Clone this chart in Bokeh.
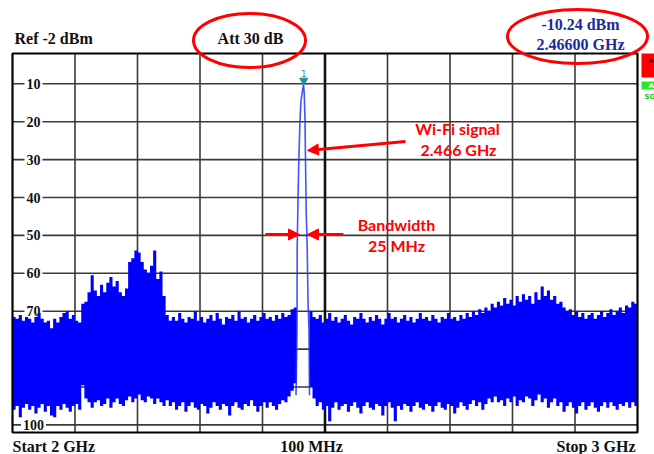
import numpy as np
from bokeh.plotting import figure
from bokeh.models import Range1d, Label, Arrow, NormalHead
from bokeh.core.properties import value
from bokeh.embed import file_html
from bokeh.resources import INLINE

# ---------------- data ----------------
F_START, F_STOP = 2.0, 3.0          # GHz
REF_LEVEL, BOTTOM_LEVEL = -2, -102  # dBm
BIN = 0.005                          # GHz per trace bin

Y_TICKS = [-10, -20, -30, -40, -50, -60, -70, -80, -90, -100]
Y_TICK_LABELS = ["10", "20", "30", "40", "50", "60", "70", "80", "90", "100"]
X_GRID = [2.1, 2.2, 2.3, 2.4, 2.5, 2.6, 2.7, 2.8, 2.9]

# noise trace, left of the carrier (bins from 2.000 GHz)
NOISE_LEFT_START = 2.000
NOISE_LEFT_MAX = [
    -71.5, -72, -71, -72.5, -71.5, -72, -73, -71.5, -70.5, -72,
    -73, -72.5, -74.5, -72, -73, -71.5, -70.5, -70, -72, -71,
    -72.5, -73, -68, -67.5, -65, -60.5, -64.5, -66, -63, -65,
    -62.5, -61, -63.5, -62, -65, -66, -64, -57, -56, -54,
    -54.5, -57, -59, -60, -58, -54, -61.5, -59.5, -66, -71,
    -72.5, -71.5, -72.5, -70.5, -72, -73, -71.5, -72, -70, -72.5,
    -71.5, -73, -72, -71, -72.5, -70.5, -72, -73.5, -71.5, -72,
    -71, -72.5, -70, -72, -71.5, -73, -72, -71, -72.5, -71.5,
    -70.5, -72, -71.5, -72.5, -71, -72, -70.5, -71.5, -71, -69.5,
    -69,
]
NOISE_LEFT_MIN = [
    -96, -95, -98, -95.5, -94.5, -96, -95, -97, -95.5, -94.5,
    -96.5, -95, -97.5, -98, -95, -96, -94.5, -95.5, -96.5, -95,
    -94.5, -96, -89.5, -93, -94, -95.5, -94, -93.5, -95, -94.5,
    -93, -95.5, -94, -93, -94.5, -95, -93.5, -92.5, -94, -93,
    -92, -93.5, -94, -92.5, -93, -94.5, -93, -94, -95, -93.5,
    -95, -94, -96, -95, -94, -96.5, -95, -94, -95.5, -96,
    -94.5, -95, -97, -95.5, -94, -95, -96, -94.5, -95, -97.5,
    -95, -94, -95.5, -96, -94.5, -95, -93.5, -95, -96.5, -95,
    -94, -95.5, -94, -95, -96, -94.5, -93.5, -94, -92.5, -91,
    -89,
]

# noise trace, right of the carrier (bins from 2.475 GHz)
NOISE_RIGHT_START = 2.475
NOISE_RIGHT_MAX = [
    -70, -71.5, -72, -71, -73, -72, -70.5, -72.5, -71.5, -73,
    -72, -71, -72.5, -73.5, -71.5, -72, -70.5, -72, -73, -71.5,
    -72.5, -71, -72, -73.5, -72, -70.5, -72, -71.5, -73, -72,
    -71, -72.5, -71.5, -73, -72, -70.5, -72, -71.5, -72.5, -71,
    -72, -73, -71.5, -72, -70.5, -72, -71.5, -72.5, -71, -72,
    -70.5, -71.5, -70, -71, -69.5, -70.5, -69, -70, -68, -69,
    -67.5, -68.5, -66.5, -68, -67, -68.5, -66, -67.5, -65.5, -67,
    -66, -68, -65, -67, -63.5, -66, -64.5, -67, -66, -68,
    -67.5, -69, -70, -69.5, -71, -70, -71.5, -70.5, -72, -71,
    -70.5, -72, -71, -70, -71.5, -70.5, -69.5, -71, -70, -69,
    -70.5, -68.5, -69, -67.5, -68,
]
NOISE_RIGHT_MIN = [
    -90, -93, -95, -94, -96, -95, -99, -95.5, -94, -96,
    -95, -94.5, -96.5, -95, -94, -95.5, -97, -95, -94, -95.5,
    -96, -94.5, -95, -97.5, -95, -94, -95.5, -99, -95, -96,
    -94.5, -95, -96.5, -95, -94, -95.5, -96, -94.5, -95, -96.5,
    -95, -94, -95.5, -96, -94.5, -95, -97, -95.5, -94, -95,
    -96, -94.5, -93.5, -95, -94, -96, -94.5, -93, -94, -92.5,
    -94, -93.5, -95, -93, -94, -92.5, -95, -93.5, -94, -92.5,
    -93, -95, -93.5, -92, -94, -93, -95.5, -94, -93, -95,
    -94, -96.5, -95, -94, -95.5, -97, -95, -94, -96, -95,
    -94, -95.5, -96.5, -95, -94, -95.5, -94, -95, -96, -94.5,
    -95, -94, -95.5, -94, -95,
]

# Wi-Fi carrier trace
SIGNAL_FREQ = [2.4536, 2.4552, 2.4555, 2.4565, 2.4581, 2.4600, 2.4616, 2.4640,
               2.4656, 2.4667, 2.4680, 2.4688, 2.4699, 2.4715, 2.4728, 2.4744, 2.4752]
SIGNAL_LEVEL = [-92.2, -75.1, -53.2, -43.4, -30.2, -19.7, -14.4, -11.8,
                -10.24, -12.3, -19.7, -30.2, -43.4, -53.2, -67.2, -75.1, -92.2]
MARKER_FREQ, MARKER_LEVEL = 2.466, -10.24

# ---------------- page geometry (pixels of the 654x454 picture) ----------------
W, H = 654, 454
PX_LEFT, PX_RIGHT, PX_TOP, PX_BOTTOM = 12, 637, 53, 432
XS = (PX_RIGHT - PX_LEFT) / (F_STOP - F_START)
YS = (PX_BOTTOM - PX_TOP) / (REF_LEVEL - BOTTOM_LEVEL)


def X(px):
    return F_START + (px - PX_LEFT) / XS


def Y(py):
    return REF_LEVEL - (py - PX_TOP) / YS


p = figure(width=W, height=H, min_border=0, toolbar_location=None,
           x_axis_location=None, y_axis_location=None, output_backend="svg",
           x_range=Range1d(X(0), X(W)), y_range=Range1d(Y(H), Y(0)))
p.outline_line_color = None
p.grid.visible = False
p.background_fill_color = "white"
p.border_fill_color = "white"

GRID = "#3a3a3a"
# grid
p.segment(x0=[F_START] * len(Y_TICKS), x1=[F_STOP] * len(Y_TICKS), y0=Y_TICKS, y1=Y_TICKS,
          line_color=GRID, line_width=1.6)
xg = [g for g in X_GRID if abs(g - 2.5) > 1e-9]
p.segment(x0=xg, x1=xg, y0=[BOTTOM_LEVEL] * len(xg), y1=[REF_LEVEL] * len(xg),
          line_color=GRID, line_width=1.6)
p.segment(x0=[2.5], x1=[2.5], y0=[BOTTOM_LEVEL], y1=[REF_LEVEL], line_color="#111111", line_width=2.6)

# y tick labels drawn inside the graticule (below the trace)
p.text(x=[X(33)] * len(Y_TICKS), y=Y_TICKS, text=Y_TICK_LABELS,
       text_align="center", text_baseline="middle",
       text_font=value("Liberation Serif"), text_font_style="bold", text_font_size="14px",
       text_color="#111111", background_fill_color="white", padding=2)

# noise trace: min/max envelope of each bin, drawn as one stepped band
BLUE = "#0000ff"
for start, hi, lo in ((NOISE_LEFT_START, NOISE_LEFT_MAX, NOISE_LEFT_MIN),
                      (NOISE_RIGHT_START, NOISE_RIGHT_MAX, NOISE_RIGHT_MIN)):
    edges = start + BIN * np.arange(len(hi) + 1)
    xs = np.repeat(edges, 2)[1:-1]
    p.varea(x=xs, y1=np.repeat(lo, 2), y2=np.repeat(hi, 2), fill_color=BLUE)

# carrier
p.line(SIGNAL_FREQ, SIGNAL_LEVEL, line_color="#2233ff", line_width=1.6, line_alpha=0.85)

# frame
p.rect(x=[(F_START + F_STOP) / 2], y=[(REF_LEVEL + BOTTOM_LEVEL) / 2],
       width=[F_STOP - F_START], height=[REF_LEVEL - BOTTOM_LEVEL],
       fill_color=None, line_color="black", line_width=2.2)

# marker 1
TEAL = "#1f9090"
p.scatter([MARKER_FREQ], [Y(80)], marker="inverted_triangle", size=8,
          fill_color=TEAL, line_color=TEAL)
p.text(x=[MARKER_FREQ], y=[Y(73)], text=["1"], text_align="center", text_baseline="middle",
       text_font=value("DejaVu Sans"), text_font_size="8px", text_color=TEAL)

# header / footer texts
SERIF = "Liberation Serif"


def lab(txt, px, py, align="left", color="#111111", size="16px", font=SERIF, style="bold"):
    p.add_layout(Label(x=X(px), y=Y(py), text=txt, text_align=align, text_baseline="middle",
                       text_font=font, text_font_style=style, text_font_size=size,
                       text_color=color))


lab("Ref -2 dBm", 14, 38)
lab("Att 30 dB", 250, 38, align="center")
lab("-10.24 dBm", 580, 24, align="center", color="#1c2a9e")
lab("2.46600 GHz", 580, 44, align="center", color="#1c2a9e")
lab("Start 2 GHz", 12, 446)
lab("100 MHz", 311, 446, align="center")
lab("Stop 3 GHz", 635, 446, align="right")

# side soft-keys (partially visible)
p.quad(left=[X(641)], right=[X(660)], top=[Y(53)], bottom=[Y(77)], fill_color="#ff0000", line_color=None)
p.quad(left=[X(641)], right=[X(660)], top=[Y(81)], bottom=[Y(89)], fill_color="#22ee22", line_color=None)
lab("*", 648, 62, size="10px", font="DejaVu Sans")
lab("A", 648, 85, size="7px", color="white", font="DejaVu Sans")
lab("SG", 644, 96, size="7px", color="#22cc22", font="DejaVu Sans")

# red annotations
RED = "#ff0000"
p.ellipse(x=[X(249)], y=[Y(40)], width=112, height=54, width_units="screen", height_units="screen",
          fill_color=None, line_color=RED, line_width=3)
p.ellipse(x=[X(577)], y=[Y(36)], width=140, height=54, width_units="screen", height_units="screen",
          fill_color=None, line_color=RED, line_width=3)

for (x0, y0, x1, y1) in ((405, 141, 307, 150), (265, 234, 299, 234), (343, 234, 307, 234)):
    p.add_layout(Arrow(end=NormalHead(size=11, fill_color=RED, line_color=RED),
                       x_start=X(x0), y_start=Y(y0), x_end=X(x1), y_end=Y(y1),
                       line_color=RED, line_width=3))

lab("Wi-Fi signal", 457, 128, align="center", color=RED, font="Lato")
lab("2.466 GHz", 458, 149, align="center", color=RED, font="Lato")
lab("Bandwidth", 396, 224, align="center", color=RED, font="Lato")
lab("25 MHz", 396, 245, align="center", color=RED, font="Lato")

open("out.html", "w").write(file_html(p, INLINE))
